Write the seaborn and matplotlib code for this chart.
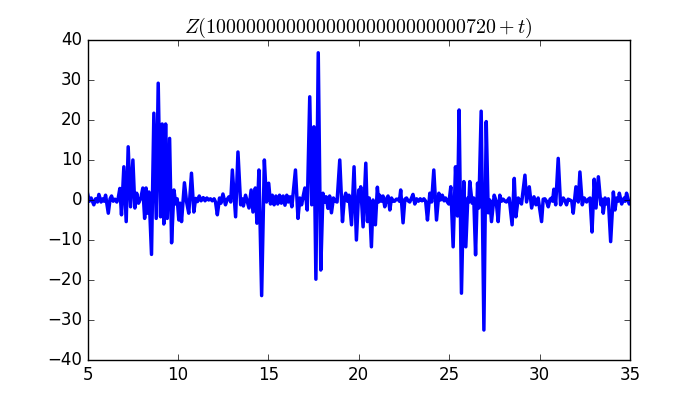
import numpy as np
import pandas as pd
import matplotlib
matplotlib.use("Agg")
import matplotlib.pyplot as plt
import seaborn as sns

# offset shown in the title: 10^28 + 720
title_txt = r"$Z(10000000000000000000000000720+t)$"

# t positions of the local extrema
t = [5.0, 5.1, 5.2, 5.35, 5.45, 5.55, 5.63, 5.75, 5.85, 5.92,
     6.0, 6.15, 6.25, 6.33, 6.42, 6.52, 6.62, 6.7, 6.79, 6.88,
     7.01, 7.14, 7.25, 7.38, 7.51, 7.62, 7.72, 7.82, 7.95, 8.06,
     8.16, 8.24, 8.31, 8.4, 8.54, 8.67, 8.8, 8.91, 9.04, 9.13,
     9.22, 9.32, 9.41, 9.54, 9.65, 9.78, 9.88, 9.96, 10.05, 10.12,
     10.2, 10.36, 10.48, 10.6, 10.75, 10.88, 10.98, 11.08, 11.18, 11.28,
     11.4, 11.5, 11.6, 11.7, 11.8, 11.9, 12.0, 12.08, 12.18, 12.3,
     12.38, 12.49, 12.63, 12.73, 12.82, 12.92, 13.01, 13.19, 13.32, 13.47,
     13.55, 13.62, 13.74, 13.84, 13.93, 14.05, 14.15, 14.28, 14.37, 14.48,
     14.63, 14.78, 14.9, 15.02, 15.12, 15.22, 15.32, 15.42, 15.52, 15.62,
     15.72, 15.82, 15.92, 16.02, 16.1, 16.2, 16.3, 16.5, 16.64, 16.74,
     16.84, 16.93, 17.02, 17.15, 17.29, 17.4, 17.52, 17.63, 17.76, 17.9,
     18.02, 18.12, 18.2, 18.3, 18.39, 18.49, 18.6, 18.7, 18.8, 18.95,
     19.1, 19.2, 19.28, 19.37, 19.46, 19.6, 19.74, 19.87, 20.0, 20.05,
     20.11, 20.24, 20.39, 20.48, 20.58, 20.7, 20.79, 20.92, 21.03, 21.1,
     21.16, 21.25, 21.34, 21.44, 21.53, 21.62, 21.72, 21.81, 21.9, 21.98,
     22.08, 22.17, 22.25, 22.32, 22.45, 22.55, 22.64, 22.73, 22.82, 22.9,
     23.0, 23.1, 23.2, 23.3, 23.4, 23.5, 23.6, 23.7, 23.8, 23.93,
     24.03, 24.15, 24.3, 24.43, 24.52, 24.62, 24.72, 24.8, 24.9, 24.98,
     25.09, 25.22, 25.35, 25.46, 25.55, 25.68, 25.81, 25.92, 26.03, 26.09,
     26.14, 26.27, 26.36, 26.46, 26.57, 26.64, 26.77, 26.92, 27.05, 27.16,
     27.25, 27.34, 27.49, 27.6, 27.71, 27.8, 27.9, 27.99, 28.08, 28.17,
     28.32, 28.48, 28.6, 28.69, 28.82, 28.92, 29.0, 29.19, 29.28, 29.43,
     29.56, 29.69, 29.8, 29.92, 30.11, 30.2, 30.29, 30.38, 30.48, 30.58,
     30.67, 30.72, 30.79, 30.89, 31.03, 31.16, 31.31, 31.4, 31.49, 31.58,
     31.68, 31.78, 31.86, 32.01, 32.14, 32.23, 32.36, 32.47, 32.6, 32.7,
     32.79, 32.9, 33.02, 33.12, 33.25, 33.39, 33.46, 33.52, 33.62, 33.71,
     33.8, 33.93, 34.08, 34.17, 34.26, 34.35, 34.41, 34.54, 34.68, 34.74,
     34.81, 34.96, 35.0]

z = [1.7, -0.3, 0.5, -1.2, 0.3, -0.5, 1.4, -0.5, 0.3, -0.3,
     1.2, -3.3, 0.3, 1.0, -0.3, 0.2, -0.5, 0.5, 2.9, -3.7,
     8.3, -5.4, 13.3, -1.7, 10.0, -2.0, 1.7, -0.8, 0.5, 3.0,
     -4.6, 3.0, -3.3, 2.0, -13.6, 21.7, -4.6, 29.2, -4.2, 19.0,
     -6.0, 19.0, -4.6, 15.4, -10.7, 2.5, -1.0, 0.3, -5.0, -0.8,
     -5.4, 4.3, -0.5, -3.3, 6.7, -3.0, 0.4, -0.4, 1.0, -0.2,
     0.6, -0.2, 0.5, 0.0, 0.3, -0.2, 0.3, -0.5, -3.7, 0.5,
     -0.8, 1.5, -1.2, 0.2, 0.8, -0.5, 7.5, -4.2, 12.0, -1.2,
     0.3, -1.5, 1.2, -0.5, -2.0, 2.5, -3.0, 3.0, -5.8, 7.5,
     -23.9, 10.0, -0.5, 4.2, -1.0, 1.2, -1.2, 1.0, -1.0, 1.2,
     -0.8, 1.0, -1.3, 1.2, -0.5, 0.8, -1.7, 7.5, -4.6, 0.5,
     -1.2, 1.0, 3.0, -2.5, 25.8, -1.2, 18.3, -19.8, 36.8, -17.5,
     1.7, -0.5, 0.8, -2.1, 1.0, -3.2, 0.5, -0.3, -0.5, 10.0,
     -5.4, 0.3, 1.7, -0.3, 1.2, -6.2, 8.3, -10.0, 2.5, 0.0,
     3.3, -6.7, 9.2, -5.4, 0.5, -11.7, 0.0, -6.2, 3.2, -0.5,
     1.2, -0.3, 1.0, -1.7, 0.3, 1.0, -2.5, 0.5, -0.3, -0.3,
     0.2, 0.2, -0.3, 2.5, -5.7, 0.2, 0.5, -0.2, -0.5, 0.3,
     1.4, -1.0, 0.3, -0.3, 0.3, -0.2, 0.3, -0.3, -5.0, 1.7,
     -0.5, 7.5, -5.0, 1.7, 0.0, 1.2, -0.2, 0.5, -0.5, -1.0,
     3.3, -11.7, 8.3, -4.0, 22.5, -23.3, 4.6, -11.7, 0.5, -0.5,
     4.6, -0.8, 0.5, -13.7, 4.2, -2.0, 22.2, -32.5, 19.6, -3.2,
     0.0, -5.4, 1.2, -0.3, -5.4, 1.2, -0.3, 0.2, -0.3, -0.5,
     0.5, -6.2, 5.4, -4.2, 0.5, -0.3, -1.0, 6.2, -0.5, 3.3,
     -2.0, 0.8, -1.2, 0.5, -5.4, 0.2, 0.3, -0.3, -1.7, 0.2,
     0.5, -0.3, 2.7, -1.2, 10.4, -1.2, 0.5, -0.2, -1.2, 0.2,
     0.0, -0.3, -3.3, 3.3, -0.5, 7.0, -1.2, 0.5, -0.5, 0.2,
     0.5, -8.0, 5.2, -2.0, 5.8, -1.2, 0.2, -3.3, 0.5, -1.0,
     0.3, -10.4, 2.0, -2.5, 0.5, -0.3, 1.7, -1.0, 0.5, -0.3,
     1.7, -1.0, -0.5]

df = pd.DataFrame({"t": t, "Z": z})

plt.style.use("classic")
fig, ax = plt.subplots(figsize=(7, 4), dpi=100)
fig.patch.set_facecolor("white")

sns.lineplot(data=df, x="t", y="Z", color="blue", linewidth=2.5, ax=ax)

ax.set_xlim(5, 35)
ax.set_ylim(-40, 40)
ax.set_xlabel("")
ax.set_ylabel("")
ax.set_title(title_txt)

fig.savefig("out.png", facecolor="white")
